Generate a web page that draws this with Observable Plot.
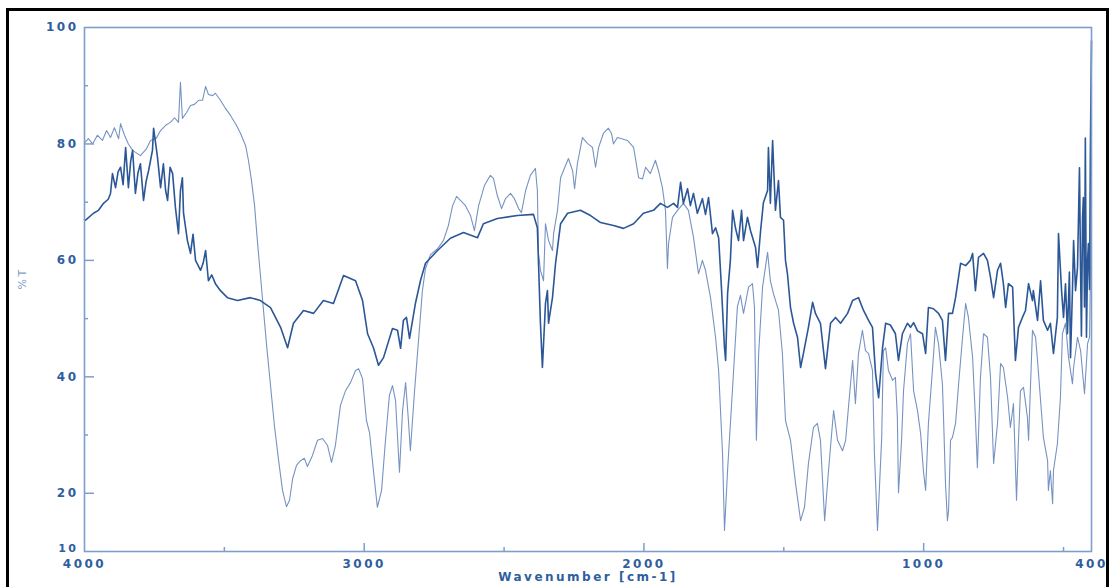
<!DOCTYPE html>
<html><head><meta charset="utf-8">
<script src="https://cdn.jsdelivr.net/npm/d3@7"></script>
<script src="https://cdn.jsdelivr.net/npm/@observablehq/plot@0.6"></script>
<style>
html,body{margin:0;padding:0;background:#fff;}
#chart svg text{letter-spacing:2.5px;}
</style></head><body>
<div id="chart"></div>
<script>
// Light (thin) spectrum
const lightWn = [4000,3986,3971,3954,3936,3921,3907,3893,3878,3871,3857,3843,3828,3800,3778,3764,3743,3728,3710,3693,3678,3664,3657,3650,3635,3621,3607,3592,3578,3567,3557,3542,3532,3514,3496,3478,3457,3442,3424,3414,3403,3392,3382,3371,3360,3349,3335,3321,3306,3292,3278,3267,3256,3242,3228,3214,3203,3185,3167,3149,3131,3117,3103,3085,3067,3049,3031,3020,3006,2992,2981,2967,2953,2938,2924,2910,2899,2888,2874,2863,2852,2842,2835,2820,2806,2792,2781,2763,2738,2717,2699,2684,2670,2656,2638,2620,2606,2591,2570,2549,2538,2524,2509,2495,2477,2463,2448,2438,2423,2406,2388,2381,2377,2370,2359,2352,2341,2327,2323,2309,2298,2270,2255,2248,2238,2220,2202,2184,2173,2162,2145,2127,2116,2109,2095,2059,2037,2019,2005,1994,1977,1959,1948,1934,1923,1916,1912,1898,1880,1859,1841,1823,1805,1791,1780,1762,1744,1733,1719,1712,1701,1683,1666,1655,1644,1626,1612,1605,1598,1590,1576,1558,1548,1537,1519,1505,1494,1476,1458,1440,1426,1412,1394,1380,1369,1354,1340,1322,1308,1290,1279,1269,1254,1244,1233,1219,1208,1197,1183,1176,1165,1150,1144,1136,1126,1111,1101,1094,1090,1079,1072,1058,1047,1036,1022,1011,1001,993,983,968,958,947,933,929,922,915,911,904,897,886,875,861,850,840,825,815,808,797,786,772,761,750,736,725,715,700,690,679,668,661,654,643,629,625,611,600,593,582,572,557,554,547,539,536,522,511,504,493,482,468,464,450,439,425,414,407,403,400];
const lightT = [80.2,80.9,80.0,81.5,80.6,82.3,81.1,82.8,80.9,83.5,81.5,80.0,78.9,78.0,79.2,80.6,81.0,82.3,83.2,83.7,84.5,83.7,90.6,84.4,85.4,86.6,86.8,87.5,87.5,89.9,88.5,88.3,88.7,87.5,86.1,84.9,83.2,81.8,79.7,77.2,73.7,69.4,63.4,57.4,51.4,45.4,38.5,31.6,25.6,20.5,17.7,18.8,22.5,24.8,25.6,26.0,24.6,26.5,29.1,29.4,28.2,25.3,28.2,35.1,37.6,39.0,41.1,41.4,39.7,32.5,30.4,23.9,17.6,20.5,29.1,36.8,38.5,35.9,23.6,34.2,39.0,32.5,27.3,37.6,46.2,54.8,58.6,61.0,62.0,63.4,66.0,69.4,71.0,70.3,69.4,67.7,65.1,69.4,72.9,74.6,74.1,71.1,68.9,70.6,71.5,70.6,68.9,68.2,72.0,74.6,75.8,72.0,61.2,58.3,56.5,66.3,63.4,61.7,64.6,68.6,74.2,77.5,75.4,72.3,76.6,81.1,80.1,79.4,76.0,79.4,81.8,82.7,81.8,80.0,81.1,80.6,79.4,74.2,74.0,76.0,74.9,77.2,75.4,72.5,68.6,58.6,62.9,67.4,68.6,69.8,68.6,64.0,57.7,60.0,58.3,53.6,46.8,41.1,26.8,13.6,24.0,38.2,52.0,54.0,50.9,55.4,56.0,52.0,29.1,44.0,55.4,61.4,56.5,54.3,51.4,44.0,32.5,29.1,21.7,15.3,17.6,25.1,31.3,32.0,29.1,15.3,24.0,34.2,29.1,27.3,29.1,34.7,42.8,35.4,44.0,48.0,44.5,44.0,41.1,26.8,13.6,29.6,44.5,45.0,41.1,39.4,39.9,33.0,20.1,29.1,37.6,45.7,47.4,37.6,34.2,30.3,23.9,20.5,32.0,41.6,48.5,45.7,38.8,33.0,21.7,15.3,17.0,29.1,29.6,32.0,38.8,46.8,52.6,50.2,43.3,33.0,24.4,39.9,47.4,46.8,39.9,25.1,32.0,42.3,41.6,36.5,31.3,35.4,18.8,29.1,37.6,38.2,33.0,29.1,48.0,46.8,42.8,35.9,29.6,25.6,20.5,23.9,18.2,23.9,28.5,36.5,47.4,49.2,43.3,38.8,41.6,46.8,44.5,37.1,45.7,46.8,60.0,90.0];

// Dark (thick, noisy) spectrum
const darkWn = [4000,3996,3968,3950,3932,3915,3907,3900,3889,3880,3871,3862,3853,3843,3835,3828,3818,3809,3800,3789,3780,3771,3757,3753,3739,3728,3718,3710,3703,3694,3685,3675,3664,3657,3650,3646,3632,3621,3612,3603,3585,3576,3567,3557,3545,3532,3514,3489,3453,3407,3371,3335,3299,3274,3253,3217,3181,3146,3110,3074,3031,3006,2988,2967,2949,2931,2899,2881,2870,2860,2849,2838,2817,2799,2781,2738,2692,2645,2595,2574,2524,2452,2395,2381,2370,2363,2352,2345,2341,2338,2327,2316,2298,2273,2227,2191,2155,2109,2073,2037,2002,1966,1941,1916,1894,1880,1869,1859,1844,1834,1823,1809,1791,1780,1769,1755,1744,1733,1723,1712,1708,1701,1691,1683,1673,1662,1651,1644,1630,1619,1601,1594,1583,1573,1558,1555,1548,1540,1530,1519,1512,1501,1494,1487,1476,1465,1451,1440,1430,1412,1397,1387,1369,1351,1333,1315,1297,1272,1254,1233,1215,1197,1183,1172,1161,1147,1136,1119,1101,1090,1076,1058,1047,1036,1022,1004,993,983,965,947,933,922,911,897,886,868,850,833,825,815,804,786,772,761,750,736,725,715,707,697,682,672,661,647,636,625,611,608,593,582,572,557,547,536,522,518,507,500,493,486,479,475,468,464,457,450,443,439,436,432,429,425,422,418,414,411,407,404,400];
const darkT = [67.0,66.9,68.1,68.6,69.8,70.5,71.5,74.9,72.5,75.2,76.0,73.0,79.4,72.5,77.0,78.9,71.5,75.0,76.6,70.3,73.5,75.4,78.9,82.7,77.7,72.5,76.6,72.0,70.3,76.0,74.9,69.1,64.6,72.0,74.2,68.1,63.4,61.2,64.5,60.0,58.3,59.5,61.7,56.5,57.5,56.0,54.8,53.6,53.1,53.6,53.1,51.9,48.5,45.0,49.2,51.4,50.9,53.1,52.6,57.4,56.5,53.1,47.4,45.0,42.0,43.3,48.3,48.0,44.9,49.7,50.2,46.6,52.6,56.5,59.5,61.7,63.8,64.8,63.9,66.3,67.2,67.7,67.9,65.6,49.2,41.6,52.6,54.8,49.2,50.2,53.6,59.5,66.3,68.1,68.6,67.7,66.5,66.0,65.5,66.3,68.1,68.6,69.8,69.1,69.8,69.1,73.4,69.8,72.3,69.4,71.5,68.1,70.6,67.9,70.8,64.6,65.6,63.9,55.4,45.0,42.8,54.3,60.0,68.6,65.6,63.4,68.6,63.4,67.4,65.1,62.2,58.8,65.1,69.9,72.0,79.4,69.8,80.6,68.6,73.7,67.4,66.9,60.0,57.7,51.9,49.2,46.8,41.6,44.0,48.5,52.8,50.9,49.2,41.4,49.2,50.2,49.2,50.9,53.1,53.6,51.4,49.7,48.5,40.6,36.4,45.0,49.2,48.9,47.4,42.8,47.4,49.2,48.5,49.3,47.9,47.4,44.0,51.9,51.7,50.9,49.7,42.8,50.9,50.9,53.6,59.5,59.1,60.0,61.2,54.8,60.5,61.2,60.0,57.1,53.6,58.3,59.5,56.0,51.9,56.0,55.4,42.8,48.5,50.2,51.4,56.0,53.1,54.8,49.7,56.5,49.7,48.0,49.2,44.0,50.2,64.6,54.8,50.2,56.0,47.4,58.0,43.3,55.0,63.4,54.8,58.8,75.9,58.0,47.0,67.4,70.8,52.0,81.0,46.8,60.0,62.9,55.0,78.9,97.7];

const yLabels = [20, 40, 60, 80, 100];
const yBottomLabel = [10];
const yMajor = [20, 40, 60, 80];
const yMinor = [30, 50, 70, 90];
const xLabels = [4000, 3000, 2000, 1000, 400];
const xMajor = [3000, 2000, 1000];
const xMinor = [3500, 2500, 1500, 500];

const light = lightWn.map((w, i) => ({wn: w, t: lightT[i]}));
const dark = darkWn.map((w, i) => ({wn: w, t: darkT[i]}));

const axisColor = "#7f9dcb";
const labelColor = "#2f5e9e";
const lightColor = "#7793c2";
const darkColor = "#2b5797";

const chart = Plot.plot({
  width: 1110, height: 587,
  marginLeft: 84, marginRight: 19, marginTop: 27, marginBottom: 36,
  style: {fontFamily: "DejaVu Sans", fontSize: "12px", background: "#fff"},
  x: {domain: [4000, 400], axis: null, label: null},
  y: {domain: [10, 100], axis: null, label: null},
  marks: [
    Plot.line(light, {x: "wn", y: "t", stroke: lightColor, strokeWidth: 1.1}),
    Plot.line(dark, {x: "wn", y: "t", stroke: darkColor, strokeWidth: 1.6}),
    Plot.frame({stroke: axisColor, strokeWidth: 1.6}),
    Plot.axisY(yMajor, {tickSize: -10, fill: "none", stroke: axisColor, strokeWidth: 1.5, label: null}),
    Plot.axisY(yMinor, {tickSize: -4, fill: "none", stroke: axisColor, strokeWidth: 1.5, label: null}),
    Plot.axisY(yLabels, {tickSize: 0, tickPadding: 6, tickFormat: "d", fill: labelColor, fontWeight: "bold", label: null}),
    Plot.axisY(yBottomLabel, {tickSize: 0, tickPadding: 6, dy: -3, fontSize: 11, tickFormat: "d", fill: labelColor, fontWeight: "bold", label: null}),
    Plot.axisX(xMajor, {tickSize: -8, fill: "none", stroke: axisColor, strokeWidth: 1.5, label: null}),
    Plot.axisX(xMinor, {tickSize: -4, fill: "none", stroke: axisColor, strokeWidth: 1.5, label: null}),
    Plot.axisX(xLabels, {tickSize: 0, tickPadding: 8, tickFormat: "d", fill: labelColor, fontWeight: "bold", label: null}),
    Plot.text(["%T"], {frameAnchor: "left", dx: -62, rotate: -90, fill: axisColor, fontSize: 11, fontWeight: "normal"}),
    Plot.text(["Wavenumber [cm-1]"], {frameAnchor: "bottom", dy: 29, fill: labelColor, fontWeight: "bold"})
  ]
});
// outer black border of the original screenshot, drawn as a plain SVG path
const ns = "http://www.w3.org/2000/svg";
const border = document.createElementNS(ns, "path");
border.setAttribute("d", "M7.5,600 L7.5,9.5 L1107.5,9.5 L1107.5,600");
border.setAttribute("fill", "none");
border.setAttribute("stroke", "#000000");
border.setAttribute("stroke-width", "3");
chart.appendChild(border);
document.getElementById("chart").appendChild(chart);
</script>
</body></html>
